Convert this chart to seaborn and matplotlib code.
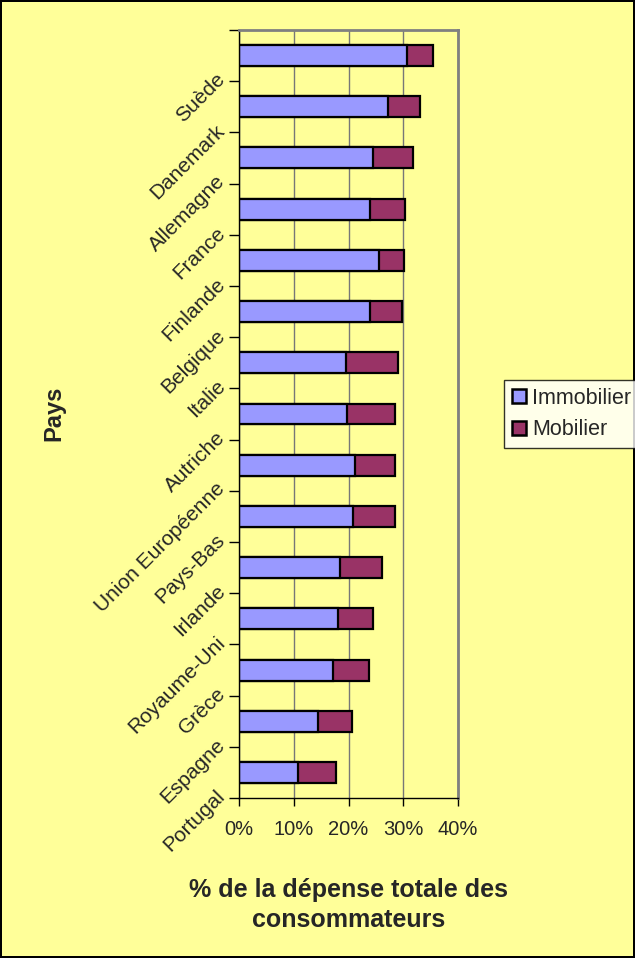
import numpy as np
import pandas as pd
import matplotlib
matplotlib.use("Agg")
import matplotlib.pyplot as plt
import matplotlib.transforms as mtransforms
import seaborn as sns
from matplotlib.patches import Patch
from matplotlib.ticker import FuncFormatter

# Data (% of total consumer spending)
pays = ["Suède", "Danemark", "Allemagne", "France", "Finlande", "Belgique",
        "Italie", "Autriche", "Union Européenne", "Pays-Bas", "Irlande",
        "Royaume-Uni", "Grèce", "Espagne", "Portugal"]
immobilier = [30.6, 27.3, 24.4, 23.9, 25.6, 23.9, 19.5, 19.8, 21.2, 20.9,
              18.4, 18.1, 17.2, 14.5, 10.7]
mobilier = [4.9, 5.8, 7.3, 6.5, 4.5, 5.9, 9.6, 8.6, 7.2, 7.5,
            7.7, 6.3, 6.5, 6.2, 7.1]
x_ticks = [0, 10, 20, 30, 40]

sns.set_style("white")
plt.rcParams["font.family"] = ["Liberation Sans", "DejaVu Sans"]

df = pd.DataFrame({"Pays": pays, "Immobilier": immobilier, "Mobilier": mobilier})
df["Total"] = df["Immobilier"] + df["Mobilier"]

bg = "#FFFF99"
blue = "#9999FF"
purple = "#993366"

fig = plt.figure(figsize=(6.35, 9.58), dpi=100, facecolor=bg,
                 edgecolor="black", linewidth=1.5)
ax = fig.add_axes([0.3764, 0.167, 0.3449, 0.8017])
ax.set_facecolor(bg)

# stacked bars: draw totals first, then the first segment on top
sns.barplot(data=df, y="Pays", x="Total", orient="h", color=purple,
            saturation=1, width=0.41, edgecolor="black", linewidth=1.6, ax=ax)
sns.barplot(data=df, y="Pays", x="Immobilier", orient="h", color=blue,
            saturation=1, width=0.41, edgecolor="black", linewidth=1.6, ax=ax)

ax.set_xlim(0, 40)
ax.set_ylim(len(pays) - 0.5, -0.5)
ax.set_xticks(x_ticks)
ax.xaxis.set_major_formatter(FuncFormatter(lambda v, p: f"{v:.0f}%"))
ax.grid(axis="x", color="#777777", linewidth=1)
ax.set_axisbelow(True)

# ticks on category boundaries, labels drawn by hand Excel-style
bounds = np.arange(len(pays) + 1) - 0.5
ax.set_yticks(bounds)
ax.set_yticklabels([])
lab_tr = ax.get_yaxis_transform() + mtransforms.ScaledTranslation(
    -0.17, 0.05, fig.dpi_scale_trans)
for i, name in enumerate(pays):
    ax.text(0, i + 0.5, name, transform=lab_tr, rotation=45,
            rotation_mode="anchor", ha="right", va="center", fontsize=15)

ax.tick_params(axis="y", direction="out", length=7, width=1, color="black",
               left=True)
ax.tick_params(axis="x", direction="out", length=6, width=1, color="black",
               bottom=True, labelsize=14.5, pad=10)

for side in ["left", "bottom"]:
    ax.spines[side].set_color("black")
    ax.spines[side].set_linewidth(1)
for side in ["top", "right"]:
    ax.spines[side].set_color("#808080")
    ax.spines[side].set_linewidth(2)

ax.set_xlabel("")
ax.set_ylabel("")
fig.text(0.085, 0.569, "Pays", rotation=90, fontsize=17, fontweight="bold",
         ha="center", va="center")
fig.text(0.549, 0.0553, "% de la dépense totale des\nconsommateurs", fontsize=18,
         fontweight="bold", ha="center", va="center", linespacing=1.35)

handles = [Patch(facecolor=blue, edgecolor="black", linewidth=1.8, label="Immobilier"),
           Patch(facecolor=purple, edgecolor="black", linewidth=1.8, label="Mobilier")]
leg = fig.legend(handles=handles, loc="upper left",
                 bbox_to_anchor=(0.794, 0.6033), frameon=True, fontsize=15.5,
                 fancybox=False, handlelength=0.65, handleheight=0.65,
                 handletextpad=0.3, borderpad=0.35, labelspacing=0.5,
                 borderaxespad=0)
leg.get_frame().set_edgecolor("black")
leg.get_frame().set_facecolor("white")
leg.get_frame().set_linewidth(1)

fig.savefig("out.png", dpi=100, facecolor=bg, edgecolor="black")
